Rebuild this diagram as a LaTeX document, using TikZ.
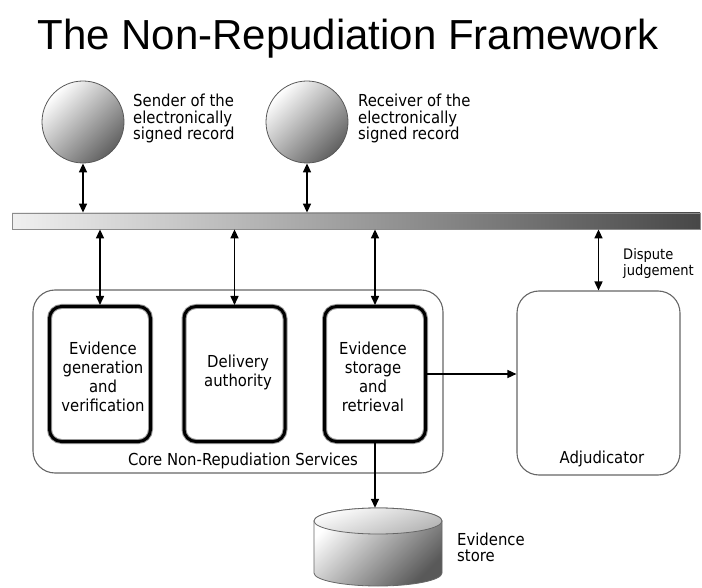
\documentclass[tikz,border=0pt]{standalone}
\usepackage{fontspec}
\setmainfont{Liberation Sans}
\newfontfamily\labelfont{DejaVu Sans Condensed}
\usetikzlibrary{arrows.meta}
\begin{document}
\begin{tikzpicture}[x=1pt,y=-1pt,
  tip/.tip={Triangle[length=9pt,width=8pt]},
  arr/.style={line width=1.5pt,-tip},
  darr/.style={line width=1.5pt,tip-tip},
  lbl/.style={font=\labelfont\fontsize{16.5}{16.5}\selectfont, align=left, inner sep=0pt},
  boxtxt/.style={font=\labelfont\fontsize{16.5}{19}\selectfont, align=center, inner sep=0pt},
  party/.style={circle, draw=black!65, line width=0.8pt, minimum size=82pt, inner sep=0pt,
    top color=white, bottom color=black!62, shading angle=45},
  service/.style={draw=black, line width=3pt, rounded corners=12pt,
    minimum width=101pt, minimum height=135pt, inner sep=0pt,
    preaction={draw=black!40, line width=5pt}},
  group/.style={draw=black!60, line width=1.1pt, rounded corners=22pt, inner sep=0pt}
]
\useasboundingbox (0,0) rectangle (702,588);

% title
\node[font=\fontsize{42}{44}\selectfont, anchor=base, inner sep=0pt] (title) at (348,50) {The Non-Repudiation Framework};

% parties
\node[party] (sender) at (83,122) {};
\node[party] (receiver) at (307,122) {};
\node[lbl, anchor=north west] (senderlbl) at (133,94) {Sender of the\\electronically\\signed record};
\node[lbl, anchor=north west] (receiverlbl) at (358,94) {Receiver of the\\electronically\\signed record};

% communication bus
\node[draw=black!45, line width=0.8pt, left color=black!6, right color=black!72,
  minimum width=688pt, minimum height=16pt, inner sep=0pt] (bar) at (356,221) {};

% core services
\node[group, minimum width=410pt, minimum height=183pt] (core) at (238,381.5) {};
\node[service] (gen) at (100,374) {};
\node[service] (deliv) at (234.5,374) {};
\node[service] (stor) at (375,374) {};
\node[boxtxt, anchor=north] (gentxt) at (103,342) {Evidence\\generation\\and\\verification};
\node[boxtxt, anchor=north] (delivtxt) at (238,355) {Delivery\\authority};
\node[boxtxt, anchor=north] (stortxt) at (373,342) {Evidence\\storage\\and\\retrieval};
\node[lbl, anchor=base] (corelbl) at (243,465) {Core Non-Repudiation Services};

% adjudicator
\node[group, minimum width=163pt, minimum height=184pt] (adj) at (598.5,383) {};
\node[lbl, anchor=base] (adjlbl) at (602,463) {Adjudicator};
\node[lbl, font=\labelfont\fontsize{14.5}{16}\selectfont, anchor=north west] (disputelbl) at (623,248.5) {Dispute\\judgement};

% evidence store
\node[minimum width=128pt, minimum height=80pt, inner sep=0pt] (store) at (378,548) {};
\shade[draw=black!60, line width=0.8pt, top color=white, bottom color=black!65, shading angle=45]
  (314,521) -- (314,573) arc[start angle=180, end angle=0, x radius=64, y radius=13]
  -- (442,521) arc[start angle=0, end angle=-180, x radius=64, y radius=13] -- cycle;
\shade[draw=black!60, line width=0.8pt, top color=white, bottom color=black!30, shading angle=20]
  (378,521) ellipse[x radius=64, y radius=13];
\node[lbl, anchor=north west] (storelbl) at (457,532.5) {Evidence\\store};

% connectors
\draw[darr] (sender.south) -- (sender.south |- bar.north);
\draw[darr] (receiver.south) -- (receiver.south |- bar.north);
\draw[darr] (bar.south -| gen.north) -- (gen.north);
\draw[darr] (bar.south -| deliv.north) -- (deliv.north);
\draw[darr] (bar.south -| stor.north) -- (stor.north);
\draw[darr] (bar.south -| adj.north) -- (adj.north);
\draw[arr] (stor.east) -- (stor.east -| adj.west);
\draw[arr] (stor.south) -- (stor.south |- store.north);
\end{tikzpicture}
\end{document}
